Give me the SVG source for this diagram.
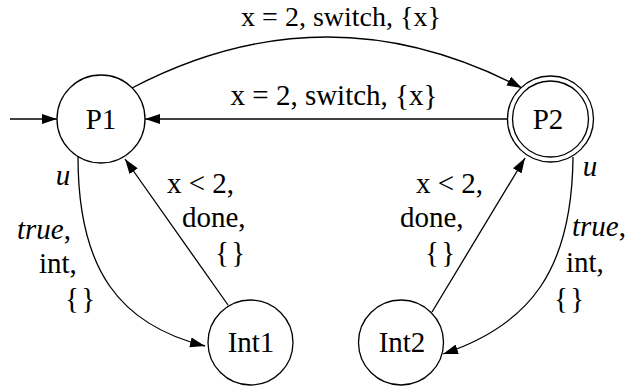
<svg xmlns="http://www.w3.org/2000/svg" width="626" height="390" viewBox="0 0 626 390">
<style>
.node{fill:#fff;stroke:#000;stroke-width:1.3}
.edge{fill:none;stroke:#000;stroke-width:1.3}
text{font-family:"Liberation Serif","Times New Roman",serif;font-size:29px;fill:#000}
.nl{text-anchor:middle}
.it{font-style:italic}
.br{word-spacing:-5px}
</style>
<defs>
<marker id="ah" markerUnits="userSpaceOnUse" markerWidth="16" markerHeight="10" refX="15" refY="5" orient="auto" viewBox="0 0 16 10">
<path d="M0,0 L15,5 L0,10 z" fill="#000"/>
</marker>
</defs>
<g id="connectors">
<path class="edge" d="M10,119 L57,119" marker-end="url(#ah)"/>
<path class="edge" d="M132,88 Q327,-14 522,88" marker-end="url(#ah)"/>
<path class="edge" d="M508,119 L145,119" marker-end="url(#ah)"/>
<path class="edge" d="M78,157 C78,270 120,325 205,346" marker-end="url(#ah)"/>
<path class="edge" d="M228,305 L125,159" marker-end="url(#ah)"/>
<path class="edge" d="M432,312 L525,158" marker-end="url(#ah)"/>
<path class="edge" d="M573,157 C572,270 530,325 443,354" marker-end="url(#ah)"/>
</g>
<g id="edge-labels">
<text x="341" y="26" text-anchor="middle" style="font-size:28px">x = 2, switch, {x}</text>
<text x="334" y="105" text-anchor="middle">x = 2, switch, {x}</text>
<text class="it" x="63" y="185" text-anchor="middle">u</text>
<text x="17" y="239"><tspan class="it">true</tspan>,</text>
<text x="39" y="273">int,</text>
<text class="br" x="65" y="308">{ }</text>
<text x="167" y="193">x &lt; 2,</text>
<text x="182" y="227">done,</text>
<text class="br" x="215" y="262">{ }</text>
<text x="416" y="193">x &lt; 2,</text>
<text x="400" y="227">done,</text>
<text class="br" x="425" y="262">{ }</text>
<text class="it" x="590" y="176" text-anchor="middle">u</text>
<text x="572" y="236"><tspan class="it">true</tspan>,</text>
<text x="566" y="272">int,</text>
<text class="br" x="554" y="308">{ }</text>
</g>
<g id="P1"><circle class="node" cx="101" cy="119" r="44"/><text class="nl" x="101" y="129">P1</text></g>
<g id="P2"><circle class="node" cx="550.5" cy="119" r="43"/><circle class="node" cx="550.5" cy="119" r="38"/><text class="nl" x="548" y="129">P2</text></g>
<g id="Int1"><circle class="node" cx="250.5" cy="342.5" r="42.5"/><text class="nl" x="251" y="352">Int1</text></g>
<g id="Int2"><circle class="node" cx="401" cy="342.5" r="42.5"/><text class="nl" x="402" y="352">Int2</text></g>
</svg>
